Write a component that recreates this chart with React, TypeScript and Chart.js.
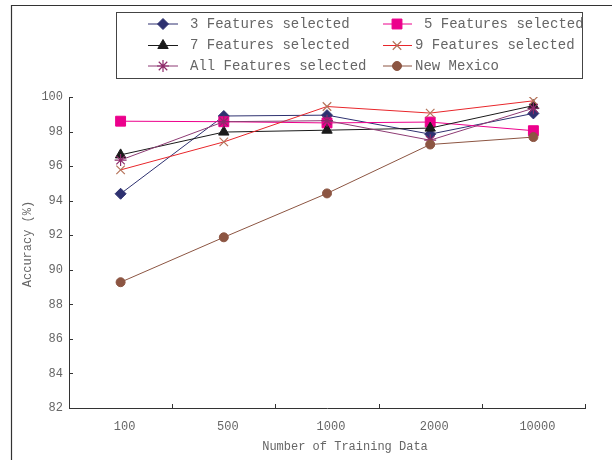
import React, { useEffect, useRef } from "react";
import { Chart, registerables } from "chart.js";
import { drawPoint } from "chart.js/helpers";

Chart.register(...registerables);

const categories = ["100", "500", "1000", "2000", "10000"];
const yTicks = [82, 84, 86, 88, 90, 92, 94, 96, 98, 100];

const features3 = [94.4, 98.9, 98.95, 97.85, 99.05];
const features5 = [98.6, 98.57, 98.5, 98.55, 98.05];
const features7 = [96.65, 97.97, 98.08, 98.2, 99.5];
const features9 = [95.78, 97.4, 99.45, 99.07, 99.78];
const featuresAll = [96.35, 98.57, 98.63, 97.5, 99.35];
const newMexico = [89.28, 91.88, 94.42, 97.25, 97.68];

const seriesNames = [
  "3 Features selected",
  "5 Features selected",
  "7 Features selected",
  "9 Features selected",
  "All Features selected",
  "New Mexico",
];

const FONT = "'Liberation Mono', 'DejaVu Sans Mono', monospace";
const TEXT = "#666666";
const AXIS = "#333333";

const styles = [
  { line: "#2e3170", marker: "#2e3170", point: "rectRot", radius: 5.5, bw: 1 },
  { line: "#ec008c", marker: "#ec008c", point: "rect", radius: 7, bw: 1 },
  { line: "#1a1a1a", marker: "#1a1a1a", point: "triangle", radius: 6, bw: 1 },
  { line: "#e8262b", marker: "#b5735a", point: "crossRot", radius: 6, bw: 1.2 },
  { line: "#8e3b74", marker: "#8e2a6a", point: "star", radius: 6, bw: 1.2 },
  { line: "#8c5542", marker: "#8c5542", point: "circle", radius: 4.5, bw: 1 },
];

const seriesData = [features3, features5, features7, features9, featuresAll, newMexico];

const decorPlugin = {
  id: "decor",
  afterDraw(chart: any) {
    const ctx = chart.ctx;
    const x = chart.scales.x;
    const y = chart.scales.y;
    const area = chart.chartArea;
    ctx.save();
    // outer frame
    ctx.strokeStyle = "#333";
    ctx.lineWidth = 1.2;
    ctx.beginPath();
    ctx.moveTo(11.5, 460);
    ctx.lineTo(11.5, 5.5);
    ctx.lineTo(612, 5.5);
    ctx.stroke();

    // inner ticks
    ctx.strokeStyle = AXIS;
    ctx.lineWidth = 1;
    ctx.beginPath();
    for (const v of yTicks) {
      const py = Math.round(y.getPixelForValue(v)) + 0.5;
      ctx.moveTo(area.left, py);
      ctx.lineTo(area.left + 4, py);
    }
    for (let i = 0; i <= categories.length; i++) {
      const px = Math.round(x.getPixelForValue(i - 0.5)) + 0.5;
      ctx.moveTo(px, area.bottom);
      ctx.lineTo(px, area.bottom - 4);
    }
    ctx.stroke();

    // axis titles
    ctx.fillStyle = TEXT;
    ctx.font = `12px ${FONT}`;
    ctx.textAlign = "center";
    ctx.textBaseline = "middle";
    ctx.fillText("Number of Training Data", 345, 447);
    ctx.save();
    ctx.translate(28, 244);
    ctx.rotate(-Math.PI / 2);
    ctx.fillText("Accuracy (%)", 0, 0);
    ctx.restore();

    // legend
    ctx.fillStyle = "#ffffff";
    ctx.fillRect(116.5, 12.5, 466, 66);
    ctx.strokeStyle = "#444";
    ctx.lineWidth = 1;
    ctx.strokeRect(116.5, 12.5, 466, 66);
    const rows = [24, 45.5, 66];
    const cols = [
      { l1: 148, l2: 178, m: 163, t: 190 },
      { l1: 383, l2: 412, m: 397, t: 415 },
    ];
    ctx.font = `14px ${FONT}`;
    ctx.textAlign = "left";
    seriesNames.forEach((name, i) => {
      const c = cols[i % 2];
      const ry = rows[Math.floor(i / 2)];
      const s = styles[i];
      ctx.strokeStyle = s.line;
      ctx.lineWidth = 1;
      ctx.beginPath();
      ctx.moveTo(c.l1, ry);
      ctx.lineTo(c.l2, ry);
      ctx.stroke();
      ctx.fillStyle = s.marker;
      ctx.strokeStyle = s.marker;
      ctx.lineWidth = s.bw;
      drawPoint(ctx, { pointStyle: s.point as any, radius: s.radius, rotation: 0, borderWidth: s.bw }, c.m, ry);
      ctx.fillStyle = TEXT;
      const tx = i === 1 ? 424 : c.t;
      ctx.fillText(name, tx, ry);
    });
    ctx.restore();
  },
};

export default function App() {
  const ref = useRef<HTMLCanvasElement | null>(null);
  useEffect(() => {
    document.body.style.margin = "0";
    const canvas = ref.current!;
    const chart = new Chart(canvas, {
      type: "line",
      data: {
        labels: categories,
        datasets: seriesData.map((d, i) => ({
          label: seriesNames[i],
          data: d,
          borderColor: styles[i].line,
          borderWidth: 1,
          backgroundColor: styles[i].marker,
          pointBackgroundColor: styles[i].marker,
          pointBorderColor: styles[i].marker,
          pointBorderWidth: styles[i].bw,
          pointStyle: styles[i].point as any,
          pointRadius: styles[i].radius,
          tension: 0,
          fill: false,
          order: 6 - i,
        })),
      },
      options: {
        responsive: false,
        animation: false,
        devicePixelRatio: 1,
        layout: { padding: { top: 97, right: 27, left: 0, bottom: 0 } },
        plugins: {
          legend: { display: false },
          tooltip: { enabled: false },
          title: { display: false },
        },
        scales: {
          x: {
            type: "category",
            offset: true,
            grid: { display: false, drawTicks: false },
            border: { display: true, color: AXIS, width: 1 },
            ticks: {
              color: TEXT,
              font: { family: FONT, size: 12 },
              padding: 12,
              labelOffset: 4,
              maxRotation: 0,
              autoSkip: false,
            },
            afterFit: (s: any) => {
              s.height = 52;
            },
          },
          y: {
            min: 82,
            max: 100,
            grid: { display: false, drawTicks: false },
            border: { display: true, color: AXIS, width: 1 },
            ticks: {
              stepSize: 2,
              color: TEXT,
              font: { family: FONT, size: 12 },
              padding: 6,
            },
            afterFit: (s: any) => {
              s.width = 69;
            },
          },
        },
      },
      plugins: [decorPlugin],
    });
    return () => chart.destroy();
  }, []);
  return (
    <div style={{ width: 612, height: 460, background: "#fff" }}>
      <canvas ref={ref} width={612} height={460} style={{ display: "block" }} />
    </div>
  );
}
